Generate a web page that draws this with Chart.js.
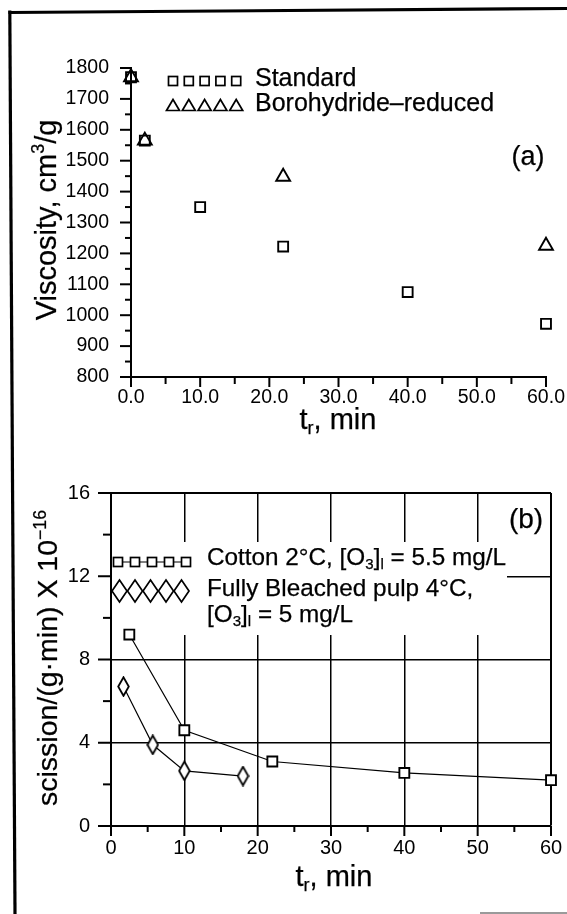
<!DOCTYPE html>
<html><head><meta charset="utf-8">
<script src="https://cdn.jsdelivr.net/npm/chart.js@4/dist/chart.umd.min.js"></script>
<style>
html,body{margin:0;padding:0;background:#fff;}
body{width:567px;height:914px;position:relative;overflow:hidden;font-family:"Liberation Sans",Arial,sans-serif;color:#000;}
canvas{position:absolute;left:0;top:0;}
.box{position:absolute;left:0;width:567px;}
.t{position:absolute;white-space:nowrap;line-height:1;-webkit-text-stroke:0.25px #000;}
.c{transform:translate(-50%,-50%);}
.l{transform:translateY(-50%);}
.r{transform:translate(-50%,-50%) rotate(-90deg);}
.sub{font-size:0.62em;vertical-align:-0.28em;}
.sup{font-size:0.62em;vertical-align:0.62em;}
</style></head><body>
<svg style="position:absolute;left:0;top:0" width="567" height="914">
  <line x1="9.8" y1="10.5" x2="15" y2="914" stroke="#000" stroke-width="3.2"/>
  <line x1="8.5" y1="12.5" x2="567" y2="8.5" stroke="#000" stroke-width="3.2"/>
  <line x1="480" y1="913" x2="567" y2="913" stroke="#9a9a9a" stroke-width="2"/>
</svg>
<div class="box" style="top:0;height:440px"><canvas id="ca" width="567" height="440"></canvas></div>
<div class="box" style="top:440px;height:474px"><canvas id="cb" width="567" height="474"></canvas></div>

<div class="t l" style="left:255px;top:77px;font-size:25px">Standard</div>
<div class="t l" style="left:255px;top:102px;font-size:25px">Borohydride–reduced</div>
<div class="t c" style="left:528px;top:156px;font-size:27px">(a)</div>
<div class="t r" style="left:45px;top:220px;font-size:29px">Viscosity, cm<span class="sup">3</span>/g</div>
<div class="t c" style="left:338px;top:421px;font-size:29px">t<span class="sub">r</span>, min</div>

<div class="t l" style="left:207px;top:558px;font-size:24.3px">Cotton 2°C, [O<span class="sub">3</span>]<span class="sub">l</span> = 5.5 mg/L</div>
<div class="t l" style="left:207px;top:588px;font-size:24.3px">Fully Bleached pulp 4°C,</div>
<div class="t l" style="left:207px;top:615px;font-size:24.3px">[O<span class="sub">3</span>]<span class="sub">l</span> = 5 mg/L</div>
<div class="t c" style="left:526px;top:519px;font-size:28px">(b)</div>
<div class="t r" style="left:47px;top:658px;font-size:28.5px">scission/(g·min) X 10<span class="sup">−16</span></div>
<div class="t c" style="left:334px;top:878px;font-size:29px">t<span class="sub">r</span>, min</div>

<script>
// ---------- data: panel (a) ----------
const stdTime = [0, 2, 10, 22, 40, 60];
const stdViscosity = [1770, 1565, 1350, 1222, 1075, 972];
const borTime = [0, 2, 22, 60];
const borViscosity = [1770, 1565, 1448, 1225];
const aXTicks = [0, 10, 20, 30, 40, 50, 60];
const aXTickLabels = ['0.0', '10.0', '20.0', '30.0', '40.0', '50.0', '60.0'];
const aXMinor = [5, 15, 25, 35, 45, 55];
const aYTicks = [800, 900, 1000, 1100, 1200, 1300, 1400, 1500, 1600, 1700, 1800];
const aYTickLabels = ['800', '900', '1000', '1100', '1200', '1300', '1400', '1500', '1600', '1700', '1800'];
const aYMinor = [850, 950, 1050, 1150, 1250, 1350, 1450, 1550, 1650, 1750];

// ---------- data: panel (b) ----------
const cottonTime = [2.5, 10, 22, 40, 60];
const cottonScission = [9.2, 4.6, 3.1, 2.55, 2.2];
const pulpTime = [1.7, 5.7, 10, 18];
const pulpScission = [6.7, 3.9, 2.65, 2.4];
const bXTicks = [0, 10, 20, 30, 40, 50, 60];
const bXTickLabels = ['0', '10', '20', '30', '40', '50', '60'];
const bXMinor = [5, 15, 25, 35, 45, 55];
const bYTicks = [0, 4, 8, 12, 16];
const bYTickLabels = ['0', '4', '8', '12', '16'];
const bYMinor = [2, 6, 10, 14];

const FONT = '"Liberation Sans", Arial, sans-serif';

function pts(xs, ys) { return xs.map((x, i) => ({x: x, y: ys[i]})); }
function setTicks(values) {
  return function (scale) { scale.ticks = values.map(v => ({value: v})); };
}
function labelFrom(values, labels) {
  return function (v) { const i = values.indexOf(v); return i >= 0 ? labels[i] : ''; };
}

// tall diamond marker
function diamond(w, h, lw) {
  const c = document.createElement('canvas');
  c.width = w; c.height = h;
  const g = c.getContext('2d');
  g.strokeStyle = '#000'; g.lineWidth = lw; g.fillStyle = '#fff';
  g.beginPath();
  g.moveTo(w / 2, lw / 2 + 0.3); g.lineTo(w - lw / 2 - 0.3, h / 2);
  g.lineTo(w / 2, h - lw / 2 - 0.3); g.lineTo(lw / 2 + 0.3, h / 2);
  g.closePath(); g.fill(); g.stroke();
  return c;
}

// tick marks (major + minor), placed with the chart's own scales
const tickMarks = {
  id: 'tickMarks',
  afterDraw(chart, args, o) {
    const ctx = chart.ctx, a = chart.chartArea;
    ctx.save(); ctx.strokeStyle = '#000'; ctx.lineWidth = o.width;
    const xs = chart.scales.x, ys = chart.scales.y;
    const draw = (vals, len, isX) => vals.forEach(v => {
      ctx.beginPath();
      if (isX) { const p = xs.getPixelForValue(v); ctx.moveTo(p, a.bottom); ctx.lineTo(p, a.bottom + len); }
      else { const p = ys.getPixelForValue(v); ctx.moveTo(a.left, p); ctx.lineTo(a.left - len, p); }
      ctx.stroke();
    });
    draw(o.xMajor, o.xMajorLen, true); draw(o.xMinor, o.xMinorLen, true);
    draw(o.yMajor, o.yMajorLen, false); draw(o.yMinor, o.yMinorLen, false);
    ctx.restore();
  }
};

// legend symbols for panel (a)
const legendA = {
  id: 'legendA',
  afterDraw(chart) {
    const ctx = chart.ctx;
    ctx.save(); ctx.strokeStyle = '#000'; ctx.lineWidth = 1.7;
    for (let i = 0; i < 5; i++) {
      const cx = 173 + i * 15.8;
      ctx.strokeRect(cx - 4.5, 81 - 4.5, 9, 9);
      ctx.beginPath();
      ctx.moveTo(cx, 99.5); ctx.lineTo(cx + 6.5, 110.5); ctx.lineTo(cx - 6.5, 110.5); ctx.closePath();
      ctx.stroke();
    }
    ctx.restore();
  }
};

// legend box + symbols for panel (b)
const legendB = {
  id: 'legendB',
  beforeDatasetsDraw(chart) {
    const ctx = chart.ctx;
    ctx.save(); ctx.fillStyle = '#fff';
    ctx.fillRect(112, 542 - 440, 507 - 112, 635 - 542);
    ctx.restore();
  },
  afterDraw(chart) {
    const ctx = chart.ctx, oy = 440;
    ctx.save(); ctx.strokeStyle = '#000';
    ctx.lineWidth = 1.2;
    ctx.beginPath(); ctx.moveTo(113, 562 - oy); ctx.lineTo(191, 562 - oy); ctx.stroke();
    ctx.lineWidth = 1.7;
    for (let i = 0; i < 5; i++) {
      const cx = 118 + i * 17;
      ctx.fillStyle = '#fff';
      ctx.fillRect(cx - 4.5, 562 - oy - 4.5, 9, 9);
      ctx.strokeRect(cx - 4.5, 562 - oy - 4.5, 9, 9);
      const dx = 119.5 + i * 15.5, dy = 591 - oy;
      ctx.beginPath();
      ctx.moveTo(dx, dy - 11); ctx.lineTo(dx + 7.5, dy); ctx.lineTo(dx, dy + 11); ctx.lineTo(dx - 7.5, dy); ctx.closePath();
      ctx.stroke();
    }
    ctx.restore();
  }
};

const tickFont = {family: FONT, size: 20};

// ---------- panel (a) ----------
new Chart(document.getElementById('ca'), {
  type: 'scatter',
  data: {datasets: [
    {label: 'Standard', data: pts(stdTime, stdViscosity), pointStyle: 'rect', pointRadius: 7,
     borderColor: '#000', backgroundColor: 'rgba(0,0,0,0)', borderWidth: 1.9, clip: false},
    {label: 'Borohydride–reduced', data: pts(borTime, borViscosity), pointStyle: 'triangle', pointRadius: 8,
     borderColor: '#000', backgroundColor: 'rgba(0,0,0,0)', borderWidth: 1.9, clip: false}
  ]},
  options: {
    responsive: false, animation: false, devicePixelRatio: 1,
    layout: {padding: {left: 0, right: 21, top: 68, bottom: 0}},
    plugins: {legend: {display: false}, tooltip: {enabled: false},
      tickMarks: {width: 2, xMajor: aXTicks, xMinor: aXMinor, yMajor: aYTicks, yMinor: aYMinor,
                  xMajorLen: 10, xMinorLen: 7, yMajorLen: 11, yMinorLen: 6}},
    scales: {
      x: {type: 'linear', min: 0, max: 60,
          afterBuildTicks: setTicks(aXTicks),
          ticks: {callback: labelFrom(aXTicks, aXTickLabels), font: {family: FONT, size: 19.5}, color: '#000', padding: 9, maxRotation: 0, autoSkip: false},
          grid: {display: false, drawTicks: false},
          border: {display: true, color: '#000', width: 2},
          afterFit(s) { s.height = 63; s.paddingLeft = 0; s.paddingRight = 0; }},
      y: {type: 'linear', min: 800, max: 1800,
          afterBuildTicks: setTicks(aYTicks),
          ticks: {callback: labelFrom(aYTicks, aYTickLabels), font: {family: FONT, size: 19.5}, color: '#000', padding: 22, autoSkip: false},
          grid: {display: false, drawTicks: false},
          border: {display: true, color: '#000', width: 2},
          afterFit(s) { s.width = 131; s.paddingTop = 0; s.paddingBottom = 0; }}
    }
  },
  plugins: [tickMarks, legendA]
});

// ---------- panel (b) ----------
new Chart(document.getElementById('cb'), {
  type: 'scatter',
  data: {datasets: [
    {label: 'Cotton 2°C, [O3]l = 5.5 mg/L', data: pts(cottonTime, cottonScission), showLine: true,
     borderColor: '#000', borderWidth: 1.2, pointStyle: 'rect', pointRadius: 7, pointBorderWidth: 1.9,
     pointBackgroundColor: '#fff', pointBorderColor: '#000', clip: false},
    {label: 'Fully Bleached pulp 4°C, [O3]l = 5 mg/L', data: pts(pulpTime, pulpScission), showLine: true,
     borderColor: '#000', borderWidth: 1.2, pointStyle: diamond(13, 21, 1.8), pointRadius: 8,
     pointBackgroundColor: '#fff', pointBorderColor: '#000', clip: false}
  ]},
  options: {
    responsive: false, animation: false, devicePixelRatio: 1,
    layout: {padding: {left: 0, right: 16, top: 53, bottom: 0}},
    plugins: {legend: {display: false}, tooltip: {enabled: false},
      tickMarks: {width: 2, xMajor: bXTicks, xMinor: bXMinor, yMajor: bYTicks, yMinor: bYMinor,
                  xMajorLen: 10, xMinorLen: 6, yMajorLen: 13, yMinorLen: 8}},
    scales: {
      x: {type: 'linear', min: 0, max: 60,
          afterBuildTicks: setTicks(bXTicks),
          ticks: {callback: labelFrom(bXTicks, bXTickLabels), font: tickFont, color: '#000', padding: 10, maxRotation: 0, autoSkip: false},
          grid: {display: true, drawTicks: false, color: '#000', lineWidth: c => (c.tick && c.tick.value === 60) ? 2 : 1.5},
          border: {display: true, color: '#000', width: 2},
          afterFit(s) { s.height = 474 - 386; s.paddingLeft = 0; s.paddingRight = 0; }},
      y: {type: 'linear', min: 0, max: 16,
          afterBuildTicks: setTicks(bYTicks),
          ticks: {callback: labelFrom(bYTicks, bYTickLabels), font: tickFont, color: '#000', padding: 21, autoSkip: false},
          grid: {display: true, drawTicks: false, color: '#000', lineWidth: c => (c.tick && c.tick.value === 16) ? 2 : 1.5},
          border: {display: true, color: '#000', width: 2},
          afterFit(s) { s.width = 111; s.paddingTop = 0; s.paddingBottom = 0; }}
    }
  },
  plugins: [legendB, tickMarks]
});
</script>
</body></html>
